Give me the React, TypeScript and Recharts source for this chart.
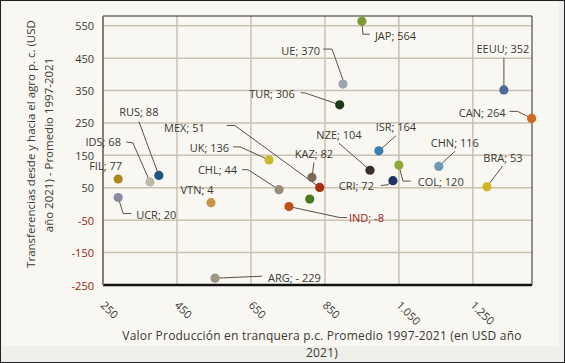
import { CartesianGrid, ReferenceArea, Scatter, ScatterChart, XAxis, YAxis } from "recharts";

// Países (código) y valores promedio 1997-2021
const countries = [
  "FIL", "IDS", "RUS", "UCR", "VTN", "ARG", "UK", "CHL", "IND", "",
  "KAZ", "MEX", "TUR", "UE", "JAP", "NZE", "ISR", "CRI", "COL", "CHN",
  "BRA", "EEUU", "CAN",
];
const labels = [
  "FIL; 77", "IDS; 68", "RUS; 88", "UCR; 20", "VTN; 4", "ARG; - 229", "UK;  136", "CHL; 44", "IND; -8", "",
  "KAZ; 82", "MEX; 51", "TUR; 306", "UE; 370", "JAP; 564", "NZE; 104", "ISR; 164", "CRI; 72", "COL; 120", "CHN; 116",
  "BRA; 53", "EEUU; 352", "CAN; 264",
];
// valor producción en tranquera p.c. (USD 2021)
const produccion = [
  291, 377, 401, 291, 542, 553, 699, 726, 753, 809,
  815, 836, 890, 899, 950, 972, 996, 1034, 1050, 1158,
  1288, 1334, 1409,
];
// transferencias desde/hacia el agro p.c. (USD 2021)
const transferencias = [
  77, 68, 88, 20, 4, -229, 136, 44, -8, 15,
  82, 51, 306, 370, 564, 104, 164, 72, 120, 116,
  53, 352, 264,
];
const xTicks = [250, 450, 650, 850, 1050, 1250];
const yTicks = [550, 450, 350, 250, 150, 50, -50, -150, -250];

const colors: Record<string, string> = {
  FIL: "#b0861a", IDS: "#c2b7a6", RUS: "#1d5680", UCR: "#8a8aa2", VTN: "#c99545",
  ARG: "#a09684", UK: "#c9b92c", CHL: "#9a8a78", IND: "#c0501c", "": "#4a7a1c",
  KAZ: "#7a6a56", MEX: "#a3300e", TUR: "#1e3a1c", UE: "#9ba6b0", JAP: "#7f9c36",
  NZE: "#3a2f26", ISR: "#3c7eae", CRI: "#1c3466", COL: "#8fa836", CHN: "#6c9ab8",
  BRA: "#d2b428", EEUU: "#4a6a9a", CAN: "#d0681e",
};

type Lay = { anchor: "start" | "middle" | "end"; dx: number; dy: number; line?: [number, number][] };
// posición de etiquetas y líneas guía, en px relativos al punto
const layout: Record<string, Lay> = {
  FIL: { anchor: "start", dx: -29, dy: -14 },
  IDS: { anchor: "end", dx: -29, dy: -40, line: [[-24, -40], [-17, -39], [0, 0]] },
  RUS: { anchor: "middle", dx: -20, dy: -64, line: [[-20, -54], [0, 0]] },
  UCR: { anchor: "start", dx: 18, dy: 17, line: [[0, 0], [5, 16], [13, 16]] },
  VTN: { anchor: "middle", dx: -14, dy: -13 },
  ARG: { anchor: "start", dx: 53, dy: -1, line: [[0, 0], [47, -2]] },
  UK: { anchor: "end", dx: -40, dy: -12, line: [[-36, -13], [-29, -13], [0, 0]] },
  CHL: { anchor: "end", dx: -42, dy: -20, line: [[-37, -20], [-31, -20], [0, 0]] },
  IND: { anchor: "start", dx: 60, dy: 11, line: [[0, 0], [51, 11], [58, 11]] },
  "": { anchor: "middle", dx: 0, dy: 0 },
  KAZ: { anchor: "middle", dx: 2, dy: -24, line: [[2, -15], [0, 0]] },
  MEX: { anchor: "end", dx: -115, dy: -60, line: [[-93, -62], [-85, -62], [0, 0]] },
  TUR: { anchor: "end", dx: -45, dy: -11, line: [[-39, -12], [-35, -12], [0, 0]] },
  UE: { anchor: "end", dx: -23, dy: -34, line: [[-20, -35], [-11, -35], [0, -4]] },
  JAP: { anchor: "start", dx: 13, dy: 14, line: [[0, 0], [1, 13], [8, 13]] },
  NZE: { anchor: "middle", dx: -31, dy: -36, line: [[-31, -27], [0, 0]] },
  ISR: { anchor: "middle", dx: 17, dy: -24, line: [[17, -15], [0, 0]] },
  CRI: { anchor: "end", dx: -19, dy: 5, line: [[-12, 5], [-5, 4], [0, 0]] },
  COL: { anchor: "start", dx: 19, dy: 16, line: [[0, 0], [4, 16], [12, 16]] },
  CHN: { anchor: "middle", dx: 16, dy: -24, line: [[16, -15], [0, 0]] },
  BRA: { anchor: "middle", dx: 16, dy: -29, line: [[16, -21], [0, 0]] },
  EEUU: { anchor: "middle", dx: -1, dy: -41, line: [[0, -32], [0, 0]] },
  CAN: { anchor: "end", dx: -26, dy: -6, line: [[-22, -7], [-14, -7], [0, 0]] },
};

const data = countries.map((pais, i) => ({
  pais,
  label: labels[i],
  x: produccion[i],
  y: transferencias[i],
}));

const FONT = "'Open Sans', sans-serif";
const TEXT = "#3b3833";
const RED = "#9a1e10";

function Leader(props: any) {
  const { cx, cy, payload } = props;
  const lay = layout[payload.pais];
  if (!lay || !lay.line) return <g />;
  const pts = lay.line.map(([a, b]) => `${cx + a},${cy + b}`).join(" ");
  return <polyline points={pts} fill="none" stroke="#5c5046" strokeWidth={1} />;
}

function Dot(props: any) {
  const { cx, cy, payload } = props;
  return <circle cx={cx} cy={cy} r={4.6} fill={colors[payload.pais]} />;
}

function Tag(props: any) {
  const { cx, cy, payload } = props;
  const lay = layout[payload.pais];
  if (!payload.label) return <g />;
  return (
    <text
      x={cx + lay.dx}
      y={cy + lay.dy}
      textAnchor={lay.anchor}
      dominantBaseline="central"
      fontFamily={FONT}
      fontSize={11}
      fill={payload.pais === "IND" ? RED : TEXT}
    >
      {payload.label}
    </text>
  );
}

function XTick(props: any) {
  const { x, y, payload } = props;
  const txt = payload.value >= 1000 ? payload.value.toLocaleString("de-DE") : String(payload.value);
  return (
    <text
      x={x - 3}
      y={y + 13}
      transform={`rotate(45 ${x - 3} ${y + 13})`}
      textAnchor="start"
      fontFamily={FONT}
      fontSize={11}
      fill={TEXT}
    >
      {txt}
    </text>
  );
}

function YTick(props: any) {
  const { x, y, payload } = props;
  return (
    <text
      x={x - 1}
      y={y}
      textAnchor="end"
      dominantBaseline="central"
      fontFamily={FONT}
      fontSize={11}
      fill={payload.value < 0 ? RED : TEXT}
    >
      {payload.value}
    </text>
  );
}

export default function App() {
  return (
    <div style={{ position: "absolute", left: 0, top: 0, width: 565, height: 363 }}>
      <div
        style={{
          position: "absolute",
          inset: 0,
          boxSizing: "border-box",
          border: "1.5px solid #222",
          background: "#efefea",
        }}
      />
      <div
        style={{
          position: "absolute",
          left: 2,
          top: 2,
          width: 557,
          height: 344,
          background: "#f8f7f2",
        }}
      />
      <ScatterChart
        width={565}
        height={363}
        margin={{ top: 16, right: 33, bottom: 18, left: 43 }}
        style={{ position: "absolute", left: 0, top: 0 }}
      >
        <CartesianGrid stroke="#cbc1b0" strokeWidth={1.5} horizontalValues={yTicks} verticalValues={xTicks} />
        <ReferenceArea x1={250} x2={1410} y1={-250} y2={580} fill="none" stroke="#2a2a2a" strokeWidth={1} ifOverflow="visible" />
        <XAxis
          type="number"
          dataKey="x"
          domain={[250, 1410]}
          ticks={xTicks}
          height={60}
          tickLine={false}
          axisLine={{ stroke: "#111", strokeWidth: 2.5 }}
          tick={<XTick />}
          interval={0}
        />
        <YAxis
          type="number"
          dataKey="y"
          domain={[-250, 580]}
          ticks={yTicks}
          width={60}
          tickLine={false}
          axisLine={{ stroke: "#8a7b68", strokeWidth: 2 }}
          tick={<YTick />}
          interval={0}
        />
        <Scatter data={data} shape={<Leader />} isAnimationActive={false} />
        <Scatter data={data} shape={<Dot />} isAnimationActive={false} />
        <Scatter data={data} shape={<Tag />} isAnimationActive={false} />
      </ScatterChart>
      <svg width={565} height={363} style={{ position: "absolute", left: 0, top: 0, pointerEvents: "none" }}>
        <g fontFamily={FONT} fontSize={11.5} fill={TEXT} textAnchor="middle">
          <text transform="translate(30 144) rotate(-90)" dominantBaseline="central">
            Transferencias desde y hacia el agro p. c. (USD
          </text>
          <text transform="translate(48 145) rotate(-90)" dominantBaseline="central">
            año 2021) - Promedio 1997-2021
          </text>
        </g>
        <g fontFamily={FONT} fontSize={12} fill={TEXT} textAnchor="middle" letterSpacing={0.2}>
          <text x={322} y={335} dominantBaseline="central">
            Valor Producción en tranquera p.c. Promedio 1997-2021 (en USD año
          </text>
          <text x={322} y={352} dominantBaseline="central">
            2021)
          </text>
        </g>
      </svg>
    </div>
  );
}
